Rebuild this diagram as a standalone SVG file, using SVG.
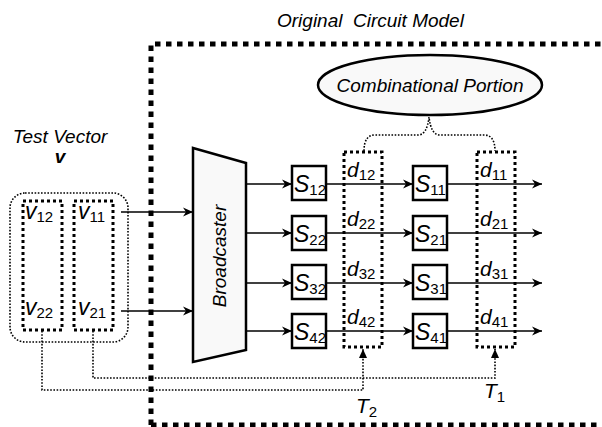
<svg xmlns="http://www.w3.org/2000/svg" width="602" height="427" viewBox="0 0 602 427">
<style>
text{font-family:"Liberation Sans",Arial,sans-serif;fill:#000}
.it{font-style:italic;font-size:19px}
.lbl{font-size:21px;font-style:italic}
.vl{font-size:23px;font-style:italic}
.sl{font-size:23px;font-style:italic}
.sub{font-size:15px;font-style:normal}
.box{fill:#fff;stroke:#000;stroke-width:2.5}
.wire{stroke:#000;stroke-width:1.6;fill:none}
.dot{stroke:#000;stroke-width:1.6;fill:none;stroke-dasharray:1.6 1.6}
.col{stroke:#000;stroke-width:3;fill:none;stroke-dasharray:3 3}
</style>
<defs>
<marker id="ah" markerWidth="11" markerHeight="11" refX="10" refY="5.5" orient="auto" markerUnits="userSpaceOnUse">
<path d="M0,1 L10,5.5 L0,10 L3,5.5 Z" fill="#000"/>
</marker>
<marker id="ahu" markerWidth="10" markerHeight="10" refX="9" refY="5" orient="auto" markerUnits="userSpaceOnUse">
<path d="M0,1 L9,5 L0,9 Z" fill="#000"/>
</marker>
</defs>

<rect x="0" y="0" width="602" height="427" fill="#fff"/>

<g id="circuit-model">
<path d="M151,425 L151,44 L602,44 M151,425 L602,425" fill="none" stroke="#000" stroke-width="5" stroke-dasharray="5.5 5.5"/>
<text x="277" y="27" class="it" font-size="20" xml:space="preserve">Original  Circuit Model</text>
</g>

<g id="combinational">
<ellipse cx="430" cy="85" rx="112" ry="30" fill="#f9f9f9" stroke="#000" stroke-width="2.5"/>
<text x="430" y="92" class="it" text-anchor="middle">Combinational Portion</text>
</g>

<g id="test-vector">
<text x="60" y="143" class="it" font-size="20.5" text-anchor="middle">Test Vector</text>
<text x="60" y="163" class="it" font-size="20.5" font-weight="bold" text-anchor="middle">v</text>
<rect x="10" y="193" width="118" height="149" rx="15" class="dot"/>
<rect x="23" y="201" width="39" height="129" fill="none" stroke="#000" stroke-width="3" stroke-dasharray="3 3"/>
<rect x="74" y="201" width="39" height="129" fill="none" stroke="#000" stroke-width="3" stroke-dasharray="3 3"/>
<text x="25" y="219" class="vl">v<tspan class="sub" dy="3">12</tspan></text>
<text x="78" y="219" class="vl">v<tspan class="sub" dy="3">11</tspan></text>
<text x="25" y="315" class="vl">v<tspan class="sub" dy="3">22</tspan></text>
<text x="78" y="315" class="vl">v<tspan class="sub" dy="3">21</tspan></text>
</g>

<g id="broadcaster">
<path d="M193,148 L246,163 L246,350 L193,362 Z" fill="#f9f9f9" stroke="#000" stroke-width="2.5"/>
<text transform="translate(226,256) rotate(-90)" class="it" font-size="21" text-anchor="middle">Broadcaster</text>
</g>

<g id="S12"><rect x="292" y="166" width="34" height="34" class="box"/><text x="294" y="192" class="sl">S<tspan class="sub" dy="3">12</tspan></text></g>
<g id="S22"><rect x="292" y="216" width="34" height="34" class="box"/><text x="294" y="242" class="sl">S<tspan class="sub" dy="3">22</tspan></text></g>
<g id="S32"><rect x="292" y="265" width="34" height="34" class="box"/><text x="294" y="291" class="sl">S<tspan class="sub" dy="3">32</tspan></text></g>
<g id="S42"><rect x="292" y="314" width="34" height="34" class="box"/><text x="294" y="340" class="sl">S<tspan class="sub" dy="3">42</tspan></text></g>
<g id="S11"><rect x="413" y="166" width="34" height="34" class="box"/><text x="415" y="192" class="sl">S<tspan class="sub" dy="3">11</tspan></text></g>
<g id="S21"><rect x="413" y="216" width="34" height="34" class="box"/><text x="415" y="242" class="sl">S<tspan class="sub" dy="3">21</tspan></text></g>
<g id="S31"><rect x="413" y="265" width="34" height="34" class="box"/><text x="415" y="291" class="sl">S<tspan class="sub" dy="3">31</tspan></text></g>
<g id="S41"><rect x="413" y="314" width="34" height="34" class="box"/><text x="415" y="340" class="sl">S<tspan class="sub" dy="3">41</tspan></text></g>

<g id="T2-column">
<rect x="344" y="152" width="38" height="195" class="col"/>
<text x="347" y="177" class="lbl">d<tspan class="sub" dy="3">12</tspan></text>
<text x="347" y="226" class="lbl">d<tspan class="sub" dy="3">22</tspan></text>
<text x="347" y="276" class="lbl">d<tspan class="sub" dy="3">32</tspan></text>
<text x="347" y="324" class="lbl">d<tspan class="sub" dy="3">42</tspan></text>
<text x="356" y="413" class="lbl">T<tspan class="sub" dy="4">2</tspan></text>
</g>

<g id="T1-column">
<rect x="477" y="152" width="38" height="195" class="col"/>
<text x="480" y="177" class="lbl">d<tspan class="sub" dy="3">11</tspan></text>
<text x="480" y="226" class="lbl">d<tspan class="sub" dy="3">21</tspan></text>
<text x="480" y="276" class="lbl">d<tspan class="sub" dy="3">31</tspan></text>
<text x="480" y="324" class="lbl">d<tspan class="sub" dy="3">41</tspan></text>
<text x="484" y="398" class="lbl">T<tspan class="sub" dy="4">1</tspan></text>
</g>

<g id="connectors">
<path class="wire" d="M121,212 L193,212" marker-end="url(#ah)"/>
<path class="wire" d="M121,311 L193,311" marker-end="url(#ah)"/>
<path class="wire" d="M246,184 L292,184" marker-end="url(#ah)"/>
<path class="wire" d="M246,233 L292,233" marker-end="url(#ah)"/>
<path class="wire" d="M246,283 L292,283" marker-end="url(#ah)"/>
<path class="wire" d="M246,331 L292,331" marker-end="url(#ah)"/>
<path class="wire" d="M326,184 L413,184" marker-end="url(#ah)"/>
<path class="wire" d="M326,233 L413,233" marker-end="url(#ah)"/>
<path class="wire" d="M326,283 L413,283" marker-end="url(#ah)"/>
<path class="wire" d="M326,331 L413,331" marker-end="url(#ah)"/>
<path class="wire" d="M447,184 L542,184" marker-end="url(#ah)"/>
<path class="wire" d="M447,233 L542,233" marker-end="url(#ah)"/>
<path class="wire" d="M447,283 L542,283" marker-end="url(#ah)"/>
<path class="wire" d="M447,331 L542,331" marker-end="url(#ah)"/>
<path class="dot" d="M364,151 Q364,135 375,135 L418,135 Q427,135 429,117 Q431,135 440,135 L484,135 Q495,135 495,151"/>
<path class="dot" d="M42,331 L42,390 L363,390 L363,349" marker-end="url(#ahu)"/>
<path class="dot" d="M93,331 L93,378 L495,378 L495,349" marker-end="url(#ahu)"/>
</g>
</svg>
